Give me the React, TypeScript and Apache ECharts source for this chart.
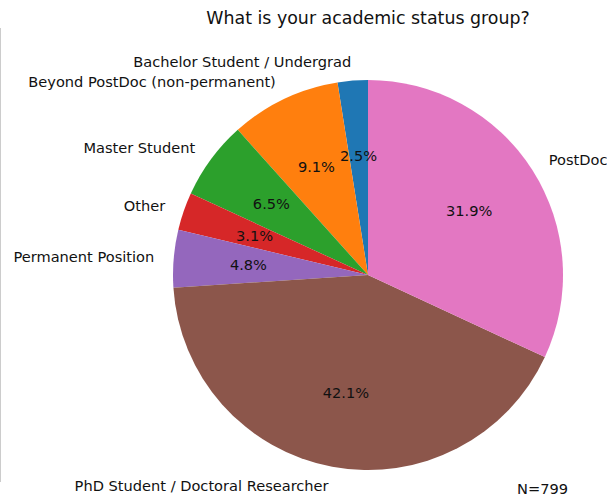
import React, { useEffect, useRef } from "react";
import * as echarts from "echarts";

const categories = [
  "Bachelor Student / Undergrad",
  "Beyond PostDoc (non-permanent)",
  "Master Student",
  "Other",
  "Permanent Position",
  "PhD Student / Doctoral Researcher",
  "PostDoc",
];
const counts = [20, 73, 52, 25, 38, 336, 255];
const colors = ["#1f77b4", "#ff7f0e", "#2ca02c", "#d62728", "#9467bd", "#8c564b", "#e377c2"];
const titleText = "What is your academic status group?";
const noteText = "N=799";

const FONT = "DejaVu Sans";
const LABEL_SIZE = 14.6;

export default function App() {
  const ref = useRef<HTMLDivElement>(null);
  useEffect(() => {
    document.body.style.margin = "0";
    const chart = echarts.init(ref.current!, null, { renderer: "svg" });
    const total = counts.reduce((a, b) => a + b, 0);
    const cx = 368;
    const cy = 275;
    const r = 195;
    const data = categories.map((name, i) => ({
      name,
      value: counts[i],
      itemStyle: { color: colors[i] },
    }));
    chart.setOption({
      animation: false,
      graphic: [
        {
          type: "text",
          x: cx,
          y: 18,
          style: {
            text: titleText,
            font: `17.4px "${FONT}"`,
            fill: "#111",
            textAlign: "center",
            textVerticalAlign: "middle",
          },
        },
        {
          type: "text",
          x: 568,
          y: 488,
          style: {
            text: noteText,
            font: `${LABEL_SIZE}px "${FONT}"`,
            fill: "#111",
            textAlign: "right",
            textVerticalAlign: "middle",
          },
        },
        {
          type: "line",
          shape: { x1: 0.5, y1: 28, x2: 0.5, y2: 482 },
          style: { stroke: "#cccccc", lineWidth: 1 },
        },
      ],
      series: [
        {
          type: "pie",
          center: [cx, cy],
          radius: [0, r],
          startAngle: 90,
          clockwise: false,
          avoidLabelOverlap: false,
          silent: true,
          itemStyle: { borderWidth: 0 },
          label: {
            show: true,
            position: "outside",
            formatter: "{b}",
            fontFamily: FONT,
            fontSize: LABEL_SIZE,
            color: "#111",
            distanceToLabelLine: 0,
            alignTo: "none",
          },
          labelLine: { show: false, length: r * 0.1, length2: 0 },
          data,
        },
        {
          type: "pie",
          center: [cx, cy],
          radius: [0, r * 1.2],
          startAngle: 90,
          clockwise: false,
          avoidLabelOverlap: false,
          silent: true,
          itemStyle: { color: "rgba(0,0,0,0)", borderWidth: 0 },
          label: {
            show: true,
            position: "inside",
            rotate: 0,
            fontFamily: FONT,
            fontSize: LABEL_SIZE,
            color: "#111",
            formatter: (p: any) => ((p.value / total) * 100).toFixed(1) + "%",
          },
          labelLine: { show: false },
          data: categories.map((name, i) => ({ name, value: counts[i] })),
        },
      ],
    });
    return () => chart.dispose();
  }, []);
  return <div ref={ref} style={{ width: 607, height: 497 }} />;
}
